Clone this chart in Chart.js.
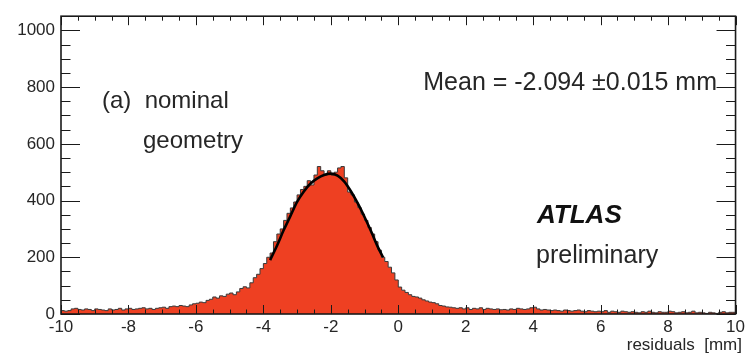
<!DOCTYPE html>
<html>
<head>
<meta charset="utf-8">
<script src="https://cdn.jsdelivr.net/npm/chart.js@4/dist/chart.umd.min.js"></script>
<style>
  html, body { margin: 0; padding: 0; background: #fff; }
  #wrap { width: 748px; height: 354px; }
</style>
</head>
<body>
<div id="wrap"><canvas id="c" width="748" height="354"></canvas></div>
<script>
// ---- Data ----
const BIN_LOW = -10;
const BIN_WIDTH = 0.1;
// 200 bins of 0.1 mm from -10 to +10 mm
const counts = [
  14, 12, 10, 12, 18, 20, 16, 14, 18, 16,
  12, 18, 16, 14, 12, 18, 14, 16, 20, 14,
  18, 20, 16, 18, 20, 22, 18, 20, 16, 20,
  22, 24, 20, 26, 28, 26, 30, 28, 26, 32,
  36, 38, 42, 40, 48, 52, 60, 56, 64, 62,
  70, 74, 68, 78, 90, 96, 92, 110, 128, 140,
  160, 178, 200, 215, 255, 282, 300, 330, 355, 374,
  395, 420, 439, 450, 470, 455, 490, 520, 505, 490,
  505, 490, 500, 515, 520, 480, 430, 420, 395, 375,
  352, 330, 305, 282, 255, 225, 200, 185, 165, 145,
  120, 95, 84, 76, 68, 62, 60, 56, 50, 46,
  42, 40, 36, 30, 28, 25, 24, 22, 20, 22,
  18, 22, 16, 20, 18, 22, 16, 20, 18, 16,
  18, 15, 16, 14, 18, 16, 20, 18, 16, 18,
  22, 24, 18, 14, 16, 14, 12, 14, 12, 10,
  14, 12, 10, 12, 14, 10, 8, 12, 10, 8,
  10, 8, 12, 6, 10, 8, 6, 10, 8, 6,
  8, 6, 4, 8, 6, 10, 6, 4, 8, 6,
  6, 10, 8, 4, 6, 8, 4, 6, 10, 4,
  6, 4, 2, 6, 4, 2, 6, 8, 4, 6
];
// Gaussian fit curve
const fitX = [-3.8, -3.6, -3.4, -3.2, -3.0, -2.8, -2.6, -2.4, -2.2, -2.0, -1.8, -1.6, -1.4, -1.2, -1.0, -0.8, -0.6, -0.45];
const fitY = [190, 240, 295, 345, 395, 432, 460, 478, 490, 495, 488, 467, 432, 390, 342, 290, 235, 200];
const xTickValues = [-10, -8, -6, -4, -2, 0, 2, 4, 6, 8, 10];
const yTickValues = [0, 200, 400, 600, 800, 1000];
const X_MIN = -10, X_MAX = 10, Y_MIN = 0, Y_MAX = 1050;

// ---- Build datasets ----
const histPoints = counts.map((v, i) => ({ x: BIN_LOW + i * BIN_WIDTH, y: v }));
histPoints.push({ x: BIN_LOW + counts.length * BIN_WIDTH, y: counts[counts.length - 1] });
const fitPoints = fitX.map((x, i) => ({ x: x, y: fitY[i] }));

const TXT = '#262626';
const FONT = '"Liberation Sans", Arial, Helvetica, sans-serif';

const framePlugin = {
  id: 'rootFrame',
  afterDatasetsDraw(chart) {
    const { ctx, chartArea: a, scales: { x, y } } = chart;
    ctx.save();
    ctx.strokeStyle = '#1a1a1a';
    ctx.lineWidth = 1;
    ctx.beginPath();
    for (let v = X_MIN; v <= X_MAX + 1e-9; v += 0.5) {
      const major = Math.abs(v / 2 - Math.round(v / 2)) < 1e-6;
      const len = major ? 9 : 4.5;
      const px = Math.round(x.getPixelForValue(v)) + 0.5;
      ctx.moveTo(px, a.bottom); ctx.lineTo(px, a.bottom - len);
      ctx.moveTo(px, a.top); ctx.lineTo(px, a.top + len);
    }
    for (let v = Y_MIN; v <= Y_MAX; v += 50) {
      const major = v % 200 === 0;
      const len = major ? 19 : 9.5;
      const py = Math.round(y.getPixelForValue(v)) + 0.5;
      ctx.moveTo(a.left, py); ctx.lineTo(a.left + len, py);
      ctx.moveTo(a.right, py); ctx.lineTo(a.right - len, py);
    }
    ctx.stroke();
    ctx.lineWidth = 1.6;
    ctx.strokeRect(a.left, a.top, a.right - a.left, a.bottom - a.top);
    ctx.restore();
  },
  afterDraw(chart) {
    const { ctx } = chart;
    ctx.save();
    ctx.fillStyle = TXT;
    ctx.textBaseline = 'alphabetic';
    ctx.textAlign = 'left';
    ctx.font = '24px ' + FONT;
    ctx.fillText('(a)  nominal', 102, 108);
    ctx.fillText('geometry', 143, 148);
    ctx.font = '25px ' + FONT;
    ctx.fillText('preliminary', 536, 263);
    ctx.textAlign = 'right';
    ctx.fillText('Mean = -2.094 \u00B10.015 mm', 717, 90);
    ctx.textAlign = 'left';
    ctx.fillStyle = '#111';
    ctx.font = 'italic bold 26px ' + FONT;
    ctx.fillText('ATLAS', 537, 223);
    ctx.fillStyle = TXT;
    ctx.textAlign = 'right';
    ctx.font = '17px ' + FONT;
    ctx.fillText('residuals  [mm]', 742, 350);
    ctx.restore();
  }
};

new Chart(document.getElementById('c'), {
  type: 'line',
  data: {
    datasets: [
      {
        label: 'residuals',
        data: histPoints,
        stepped: 'after',
        fill: 'origin',
        backgroundColor: 'rgb(238,64,34)',
        borderColor: '#3a3a3a',
        borderWidth: 1,
        pointRadius: 0,
        order: 2
      },
      {
        label: 'fit',
        data: fitPoints,
        fill: false,
        borderColor: '#000',
        borderWidth: 2.6,
        pointRadius: 0,
        cubicInterpolationMode: 'monotone',
        order: 1
      }
    ]
  },
  options: {
    responsive: false,
    animation: false,
    events: [],
    layout: { padding: { left: 0, right: 6, top: 13, bottom: 0 } },
    plugins: { legend: { display: false }, tooltip: { enabled: false } },
    scales: {
      x: {
        type: 'linear',
        min: X_MIN, max: X_MAX,
        afterBuildTicks: s => { s.ticks = xTickValues.map(v => ({ value: v })); },
        afterFit: s => { s.height = 40; },
        ticks: { color: TXT, font: { size: 17, family: FONT }, padding: 3, maxRotation: 0, autoSkip: false, callback: v => String(v) },
        grid: { display: false, drawTicks: false },
        border: { display: false }
      },
      y: {
        type: 'linear',
        min: Y_MIN, max: Y_MAX,
        afterBuildTicks: s => { s.ticks = yTickValues.map(v => ({ value: v })); },
        afterFit: s => { s.width = 61; },
        ticks: { color: TXT, font: { size: 17, family: FONT }, padding: 6, autoSkip: false, callback: v => String(v) },
        grid: { display: false, drawTicks: false },
        border: { display: false }
      }
    }
  },
  plugins: [framePlugin]
});
</script>
</body>
</html>
